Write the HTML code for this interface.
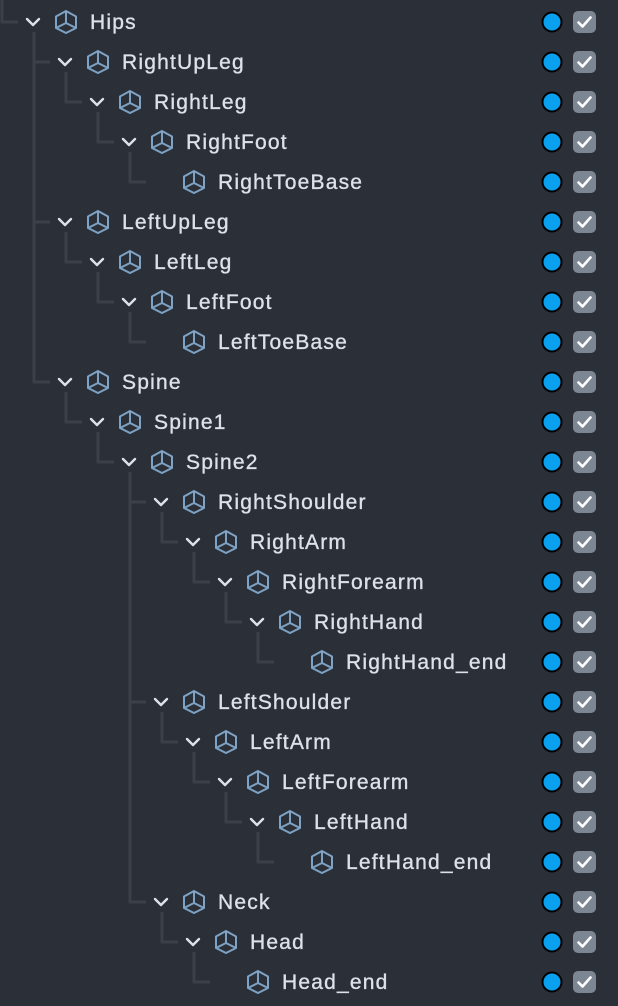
<!DOCTYPE html>
<html><head><meta charset="utf-8"><style>
html,body{margin:0;padding:0;background:#2b2f37;}
svg{display:block}
text{font-family:"Liberation Sans",sans-serif;font-size:21px;letter-spacing:1.2px;fill:#dde2e8;stroke:#dde2e8;stroke-width:0.35px;}
</style></head><body>
<svg width="618" height="1006" viewBox="0 0 618 1006" xmlns="http://www.w3.org/2000/svg">
<defs>
<g id="cube" fill="none" stroke="#7fa3c4" stroke-width="2" stroke-linejoin="round">
<path d="M0,-11 L10,-5.5 L10,6 L0,11 L-10,6 L-10,-5.5 Z"/>
<path d="M0,-11 L0,1 M-10,6 L0,1 L10,6"/>
</g>
<polyline id="chev" points="-6,-3 0,3 6,-3" fill="none" stroke="#dde2e8" stroke-width="2.4" stroke-linecap="round" stroke-linejoin="round"/>
<g id="rc">
<circle cx="552" cy="0" r="9.5" fill="#0aa0f0" stroke="#000" stroke-width="2"/>
<rect x="573" y="-11" width="23" height="22" rx="5" fill="#7c8793"/>
<polyline points="578.5,0.5 582.5,4.5 590.5,-4.5" fill="none" stroke="#fff" stroke-width="2.6" stroke-linecap="round" stroke-linejoin="round"/>
</g>
</defs>
<g fill="none" stroke="#3b4049" stroke-width="3">
<path d="M2,0 V22 H18"/>
<path d="M34,32 V382 H50 M34,62 H50 M34,222 H50"/>
<path d="M66,72 V102 H82 M98,112 V142 H114 M130,152 V182 H146"/>
<path d="M66,232 V262 H82 M98,272 V302 H114 M130,312 V342 H146"/>
<path d="M66,392 V422 H82 M98,432 V462 H114"/>
<path d="M130,472 V902 H146 M130,502 H146 M130,702 H146"/>
<path d="M162,512 V542 H178 M194,552 V582 H210 M226,592 V622 H242 M258,632 V662 H274"/>
<path d="M162,712 V742 H178 M194,752 V782 H210 M226,792 V822 H242 M258,832 V862 H274"/>
<path d="M162,912 V942 H178 M194,952 V982 H210"/>
</g>
<g transform="translate(0,22)"><use href="#chev" x="33"/><use href="#cube" x="66"/><text x="90" y="7">Hips</text><use href="#rc"/></g>
<g transform="translate(0,62)"><use href="#chev" x="65"/><use href="#cube" x="98"/><text x="122" y="7">RightUpLeg</text><use href="#rc"/></g>
<g transform="translate(0,102)"><use href="#chev" x="97"/><use href="#cube" x="130"/><text x="154" y="7">RightLeg</text><use href="#rc"/></g>
<g transform="translate(0,142)"><use href="#chev" x="129"/><use href="#cube" x="162"/><text x="186" y="7">RightFoot</text><use href="#rc"/></g>
<g transform="translate(0,182)"><use href="#cube" x="194"/><text x="218" y="7">RightToeBase</text><use href="#rc"/></g>
<g transform="translate(0,222)"><use href="#chev" x="65"/><use href="#cube" x="98"/><text x="122" y="7">LeftUpLeg</text><use href="#rc"/></g>
<g transform="translate(0,262)"><use href="#chev" x="97"/><use href="#cube" x="130"/><text x="154" y="7">LeftLeg</text><use href="#rc"/></g>
<g transform="translate(0,302)"><use href="#chev" x="129"/><use href="#cube" x="162"/><text x="186" y="7">LeftFoot</text><use href="#rc"/></g>
<g transform="translate(0,342)"><use href="#cube" x="194"/><text x="218" y="7">LeftToeBase</text><use href="#rc"/></g>
<g transform="translate(0,382)"><use href="#chev" x="65"/><use href="#cube" x="98"/><text x="122" y="7">Spine</text><use href="#rc"/></g>
<g transform="translate(0,422)"><use href="#chev" x="97"/><use href="#cube" x="130"/><text x="154" y="7">Spine1</text><use href="#rc"/></g>
<g transform="translate(0,462)"><use href="#chev" x="129"/><use href="#cube" x="162"/><text x="186" y="7">Spine2</text><use href="#rc"/></g>
<g transform="translate(0,502)"><use href="#chev" x="161"/><use href="#cube" x="194"/><text x="218" y="7">RightShoulder</text><use href="#rc"/></g>
<g transform="translate(0,542)"><use href="#chev" x="193"/><use href="#cube" x="226"/><text x="250" y="7">RightArm</text><use href="#rc"/></g>
<g transform="translate(0,582)"><use href="#chev" x="225"/><use href="#cube" x="258"/><text x="282" y="7">RightForearm</text><use href="#rc"/></g>
<g transform="translate(0,622)"><use href="#chev" x="257"/><use href="#cube" x="290"/><text x="314" y="7">RightHand</text><use href="#rc"/></g>
<g transform="translate(0,662)"><use href="#cube" x="322"/><text x="346" y="7">RightHand_end</text><use href="#rc"/></g>
<g transform="translate(0,702)"><use href="#chev" x="161"/><use href="#cube" x="194"/><text x="218" y="7">LeftShoulder</text><use href="#rc"/></g>
<g transform="translate(0,742)"><use href="#chev" x="193"/><use href="#cube" x="226"/><text x="250" y="7">LeftArm</text><use href="#rc"/></g>
<g transform="translate(0,782)"><use href="#chev" x="225"/><use href="#cube" x="258"/><text x="282" y="7">LeftForearm</text><use href="#rc"/></g>
<g transform="translate(0,822)"><use href="#chev" x="257"/><use href="#cube" x="290"/><text x="314" y="7">LeftHand</text><use href="#rc"/></g>
<g transform="translate(0,862)"><use href="#cube" x="322"/><text x="346" y="7">LeftHand_end</text><use href="#rc"/></g>
<g transform="translate(0,902)"><use href="#chev" x="161"/><use href="#cube" x="194"/><text x="218" y="7">Neck</text><use href="#rc"/></g>
<g transform="translate(0,942)"><use href="#chev" x="193"/><use href="#cube" x="226"/><text x="250" y="7">Head</text><use href="#rc"/></g>
<g transform="translate(0,982)"><use href="#cube" x="258"/><text x="282" y="7">Head_end</text><use href="#rc"/></g>
</svg>
</body></html>
